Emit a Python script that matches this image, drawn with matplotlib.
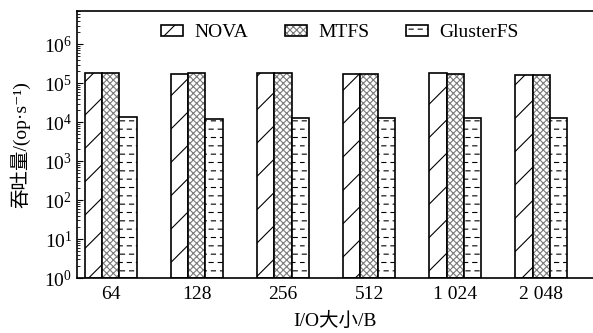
import numpy as np
import matplotlib
matplotlib.use("Agg")
import matplotlib.pyplot as plt
import matplotlib.hatch as mhatch
from matplotlib.path import Path
from matplotlib.ticker import LogLocator, FixedLocator
from matplotlib.legend_handler import HandlerTuple

plt.rcParams['font.family'] = ['Liberation Serif', 'Noto Sans CJK SC', 'DejaVu Sans']
plt.rcParams['mathtext.fontset'] = 'stix'
plt.rcParams['hatch.linewidth'] = 0.8


# short dashed rows, used in place of the '.' hatch
class DashRows(mhatch.HatchPatternBase):
    def __init__(self, hatch, density):
        self.rows = hatch.count('.') * 12
        self.per_row = 11
        self.num_vertices = self.rows * self.per_row * 2

    def set_vertices_and_codes(self, vertices, codes):
        if self.rows == 0:
            return
        ys = (np.arange(self.rows) + 0.5) / self.rows
        step = 1.0 / self.per_row
        k = 0
        for r, y in enumerate(ys):
            off = 0.25 * step if r % 2 else 0.0
            for d in range(self.per_row):
                x0 = d * step + off
                vertices[k] = (x0, y)
                vertices[k + 1] = (x0 + 0.45 * step, y)
                codes[k] = Path.MOVETO
                codes[k + 1] = Path.LINETO
                k += 2


mhatch._hatch_types = [DashRows if t is mhatch.SmallFilledCircles else t
                       for t in mhatch._hatch_types]

# data
io_sizes = ['64', '128', '256', '512', '1 024', '2 048']
nova = [1.8e5, 1.75e5, 1.8e5, 1.75e5, 1.8e5, 1.6e5]
mtfs = [1.8e5, 1.8e5, 1.8e5, 1.75e5, 1.7e5, 1.6e5]
gluster = [1.35e4, 1.17e4, 1.25e4, 1.25e4, 1.25e4, 1.3e4]

series = [('NOVA', nova, '/', 'black'),
          ('MTFS', mtfs, 'xxxxx', '#7a7a7a'),
          ('GlusterFS', gluster, '.', 'black')]

fig = plt.figure(figsize=(5.93, 3.33), dpi=100)
ax = fig.add_axes([0.13, 0.165, 0.87, 0.802])

x = np.arange(len(io_sizes))
w = 0.2
handles, labels = [], []
for i, (name, vals, hatch, hcol) in enumerate(series):
    pos = x + (i - 1) * w
    fill = ax.bar(pos, vals, w, bottom=1, color='white', edgecolor=hcol,
                  linewidth=0, hatch=hatch)
    edge = ax.bar(pos, vals, w, bottom=1, fill=False, edgecolor='black',
                  linewidth=1.2)
    handles.append((fill[0], edge[0]))
    labels.append(name)

ax.set_yscale('log')
ax.set_ylim(1, 10 ** 6.85)
ax.set_xlim(-0.39, 5.6)
ax.set_xticks(x)
ax.set_xticklabels(io_sizes, fontsize=14)
ax.tick_params(axis='x', length=0, pad=6)
ax.yaxis.set_major_locator(FixedLocator([10 ** k for k in range(7)]))
ax.yaxis.set_minor_locator(LogLocator(base=10, subs=np.arange(2, 10), numticks=20))
ax.tick_params(axis='y', which='major', direction='in', length=4, labelsize=14)
ax.tick_params(axis='y', which='minor', direction='in', length=2)
ax.spines['right'].set_visible(False)
for s in ['left', 'top', 'bottom']:
    ax.spines[s].set_linewidth(1.2)

ax.set_xlabel('I/O大小/B', fontsize=14, labelpad=6)
ax.set_ylabel('吞吐量/(op·s⁻¹)', fontsize=14, labelpad=10)

ax.legend(handles, labels, handler_map={tuple: HandlerTuple(ndivide=1, pad=0)},
          loc='upper center', bbox_to_anchor=(0.51, 1.015), ncol=3, frameon=False,
          fontsize=14, handlelength=1.1, handleheight=0.5, columnspacing=1.9,
          handletextpad=0.6)

fig.savefig('out.png', dpi=100)
